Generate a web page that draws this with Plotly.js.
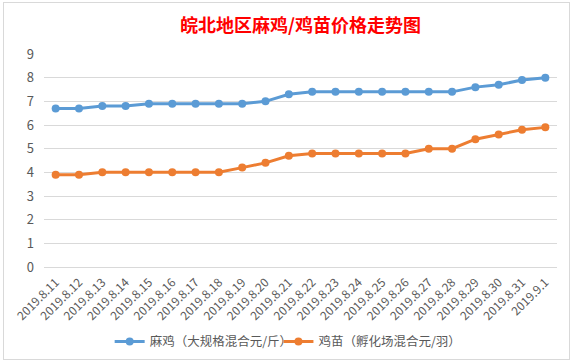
<!DOCTYPE html>
<html>
<head>
<meta charset="utf-8">
<script src="https://cdn.plot.ly/plotly-3.0.1.min.js"></script>
<style>
html,body{margin:0;padding:0;background:#fff;width:575px;height:364px;overflow:hidden;}
#frame{position:absolute;left:3px;top:2px;width:565px;height:356px;border:1px solid #d9d9d9;background:#fff;}
#chart{width:565px;height:356px;}
</style>
</head>
<body>
<div id="frame"><div id="chart"></div></div>
<script>
const dates = ["2019.8.11","2019.8.12","2019.8.13","2019.8.14","2019.8.15","2019.8.16","2019.8.17","2019.8.18","2019.8.19","2019.8.20","2019.8.21","2019.8.22","2019.8.23","2019.8.24","2019.8.25","2019.8.26","2019.8.27","2019.8.28","2019.8.29","2019.8.30","2019.8.31","2019.9.1"];
const majiPrice = [6.7,6.7,6.8,6.8,6.9,6.9,6.9,6.9,6.9,7.0,7.3,7.4,7.4,7.4,7.4,7.4,7.4,7.4,7.6,7.7,7.9,8.0];
const jimiaoPrice = [3.9,3.9,4.0,4.0,4.0,4.0,4.0,4.0,4.2,4.4,4.7,4.8,4.8,4.8,4.8,4.8,5.0,5.0,5.4,5.6,5.8,5.9];
const seriesNames = ["麻鸡（大规格混合元/斤）","鸡苗（孵化场混合元/羽）"];
const chartTitle = "皖北地区麻鸡/鸡苗价格走势图";

const font = "'Noto Sans CJK SC', 'Noto Sans', sans-serif";
const traces = [
  {x: dates, y: majiPrice, name: seriesNames[0], type: "scatter", mode: "lines+markers",
   line: {color: "#5B9BD5", width: 3}, marker: {color: "#5B9BD5", size: 8}, legend: "legend"},
  {x: dates, y: jimiaoPrice, name: seriesNames[1], type: "scatter", mode: "lines+markers",
   line: {color: "#ED7D31", width: 3}, marker: {color: "#ED7D31", size: 8}, legend: "legend2"}
];
const legendCommon = {orientation: "h", xanchor: "left", y: -0.352, yanchor: "middle",
                      font: {size: 12.5, color: "#595959"}, bgcolor: "rgba(0,0,0,0)"};
const layout = {
  width: 565, height: 356,
  margin: {l: 40, r: 12, t: 51, b: 92, autoexpand: false},
  paper_bgcolor: "#ffffff", plot_bgcolor: "#ffffff",
  font: {family: font, color: "#595959", size: 12},
  title: {text: "<b>" + chartTitle + "</b>", font: {family: font, size: 18, color: "#ff0000"},
          x: 0.5, xref: "paper", xanchor: "center", y: 0.935, yanchor: "middle"},
  xaxis: {type: "category", range: [-0.5, dates.length - 0.5], tickangle: -45, showgrid: false,
          zeroline: false, showline: false, ticks: "", ticklabelstandoff: 5,
          tickfont: {size: 12, color: "#595959"}, automargin: false},
  yaxis: {range: [0, 9], dtick: 1, showgrid: true, gridcolor: "#d9d9d9", gridwidth: 1,
          zeroline: true, zerolinecolor: "#d9d9d9", zerolinewidth: 1, showline: false, ticks: "",
          ticklabelstandoff: 9, tickfont: {size: 13, color: "#595959"}, automargin: false},
  showlegend: true,
  legend: Object.assign({}, legendCommon, {x: 0.128}),
  legend2: Object.assign({}, legendCommon, {x: 0.457})
};
Plotly.newPlot("chart", traces, layout, {displayModeBar: false, staticPlot: true});
</script>
</body>
</html>
